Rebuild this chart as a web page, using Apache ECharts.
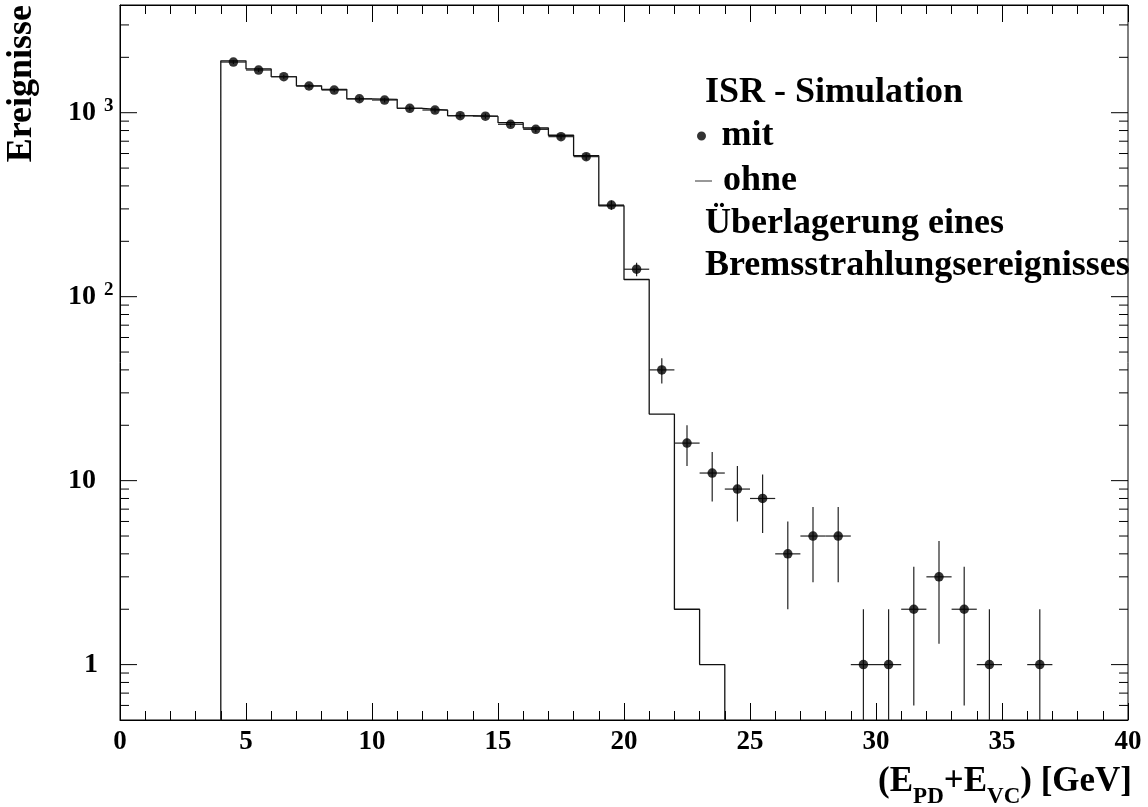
<!DOCTYPE html>
<html>
<head>
<meta charset="utf-8">
<script src="https://cdn.jsdelivr.net/npm/echarts@6/dist/echarts.min.js"></script>
<style>
html, body { margin: 0; padding: 0; background: #fff; }
#main { width: 1148px; height: 807px; }
</style>
</head>
<body>
<div id="main"></div>
<script>
// "mit" (with ISR): bin centres, contents, error bars
var mitX = [4.5, 5.5, 6.5, 7.5, 8.5, 9.5, 10.5, 11.5, 12.5, 13.5, 14.5, 15.5, 16.5, 17.5, 18.5, 19.5,
            20.5, 21.5, 22.5, 23.5, 24.5, 25.5, 26.5, 27.5, 28.5, 29.5, 30.5, 31.5, 32.5, 33.5, 34.5, 36.5];
var mitY = [1885, 1706, 1570, 1397, 1328, 1191, 1172, 1057, 1034, 963, 958, 865, 812, 741, 577, 315,
            141, 40, 16, 11, 9, 8, 4, 5, 5, 1, 1, 2, 3, 2, 1, 1];
var mitErr = [43, 41, 40, 37, 36, 35, 34, 33, 32, 31, 31, 29, 28, 27, 24, 18,
              12, 6.3, 4, 3.3, 3, 2.8, 2, 2.2, 2.2, 1, 1, 1.4, 1.7, 1.4, 1, 1];

// "ohne" (without ISR): histogram bin edges and contents
var ohneEdges = [4, 5, 6, 7, 8, 9, 10, 11, 12, 13, 14, 15, 16, 17, 18, 19, 20, 21, 22, 23, 24];
var ohneY = [1915, 1730, 1570, 1400, 1340, 1190, 1182, 1057, 1034, 963, 955, 883, 826, 754, 584, 312,
             124, 23, 2, 1];

// y axis ticks (log)
var yMajor = [1, 10, 100, 1000];
var yMinor = [0.6, 0.7, 0.8, 0.9, 2, 3, 4, 5, 6, 7, 8, 9, 20, 30, 40, 50, 60, 70, 80, 90,
              200, 300, 400, 500, 600, 700, 800, 900, 2000, 3000];

var infoLines = ['ISR - Simulation', 'Überlagerung eines', 'Bremsstrahlungsereignisses'];

var yMin = 0.5, yMax = 3850, xMin = 0, xMax = 40;
var emptyBin = 0.1;
var FONT = '"Liberation Serif", "Times New Roman", serif';

var chart = echarts.init(document.getElementById('main'));

// histogram outline for step line
var ohneData = [[ohneEdges[0], emptyBin]];
for (var i = 0; i < ohneY.length; i++) {
	ohneData.push([ohneEdges[i], ohneY[i]]);
}
ohneData.push([ohneEdges[ohneEdges.length - 1], ohneY[ohneY.length - 1]]);
ohneData.push([ohneEdges[ohneEdges.length - 1], emptyBin]);

var mitData = [], mitErrData = [];
for (var i = 0; i < mitX.length; i++) {
	mitData.push([mitX[i], mitY[i]]);
	mitErrData.push([mitX[i], mitY[i], mitErr[i]]);
}

var tickData = [];
yMajor.forEach(function (v) { tickData.push([xMin, v, 1]); });
yMinor.forEach(function (v) { tickData.push([xMin, v, 0]); });

function xAxisCfg(pos) {
	return {
		type: 'value',
		position: pos,
		min: xMin,
		max: xMax,
		interval: 5,
		axisLine: { show: true, lineStyle: { color: '#000', width: 1 } },
		axisTick: { show: true, inside: true, length: 17, lineStyle: { color: '#000', width: 1 } },
		minorTick: { show: true, splitNumber: 5, length: 9, lineStyle: { color: '#000', width: 1 } },
		splitLine: { show: false },
		axisLabel: {
			show: pos === 'bottom',
			margin: 9,
			color: '#000',
			fontFamily: FONT,
			fontWeight: 'bold',
			fontSize: 27
		}
	};
}

var bottomX = xAxisCfg('bottom');
bottomX.name = '(E{s|PD}+E{s|VC}) [GeV]';
bottomX.nameLocation = 'end';
bottomX.nameGap = 4;
bottomX.nameTextStyle = {
	align: 'right',
	verticalAlign: 'top',
	padding: [34, 0, 0, 0],
	color: '#000',
	fontFamily: FONT,
	fontWeight: 'bold',
	fontSize: 35,
	rich: {
		s: { fontFamily: FONT, fontWeight: 'bold', fontSize: 23, color: '#000', padding: [32, 0, 0, 0] }
	}
};

var legendText = { color: '#000', fontFamily: FONT, fontWeight: 'bold', fontSize: 36 };

option = {
	animation: false,
	backgroundColor: '#fff',
	grid: {
		left: 120, right: 20, top: 5, bottom: 87,
		outerBoundsMode: 'none',
		show: true, borderColor: '#000', borderWidth: 1, backgroundColor: 'transparent'
	},
	legend: [{
		data: [{ name: 'mit', icon: 'path://M0,4.5A4.5,4.5,0,1,0,9,4.5A4.5,4.5,0,1,0,0,4.5Z M19.5,4.5H19.51V4.51H19.5Z', itemStyle: { color: '#000' } }],
		left: 697, top: 118,
		padding: 0,
		itemWidth: 19.5, itemHeight: 9,
		selectedMode: false,
		textStyle: legendText
	}, {
		data: [{ name: 'ohne', icon: 'path://M0,0H17V1H0Z M23,0H23.01V1H23Z', itemStyle: { color: '#333' } }],
		left: 695, top: 163,
		padding: 0,
		itemWidth: 23, itemHeight: 1.3,
		selectedMode: false,
		textStyle: legendText
	}],
	graphic: [
		{ type: 'text', left: 705, top: 75, style: { text: infoLines[0], font: 'bold 36px ' + FONT, fill: '#000' } },
		{ type: 'text', left: 705, top: 206, style: { text: infoLines[1], font: 'bold 36px ' + FONT, fill: '#000' } },
		{ type: 'text', left: 705, top: 248, style: { text: infoLines[2], font: 'bold 36px ' + FONT, fill: '#000' } }
	],
	xAxis: [bottomX, xAxisCfg('top')],
	yAxis: {
		type: 'log',
		logBase: 10,
		min: yMin,
		max: yMax,
		name: 'Ereignisse',
		nameLocation: 'end',
		nameRotate: 90,
		nameGap: 0,
		nameTextStyle: {
			align: 'right',
			verticalAlign: 'bottom',
			padding: [0, 0, 80, 0],
			color: '#000',
			fontFamily: FONT,
			fontWeight: 'bold',
			fontSize: 36
		},
		axisLine: { show: true, lineStyle: { color: '#000', width: 1 } },
		axisTick: { show: false },
		minorTick: { show: false },
		splitLine: { show: false },
		axisLabel: {
			align: 'left',
			margin: 52,
			color: '#000',
			fontFamily: FONT,
			fontWeight: 'bold',
			fontSize: 28,
			formatter: function (v) {
				var p = Math.round(Math.log(v) / Math.LN10);
				if (Math.abs(Math.pow(10, p) - v) > 1e-6 * v) return '';
				if (p === 0) return '{one|1}';
				if (p === 1) return '10';
				return '10{sup|' + p + '}';
			},
			rich: {
				one: { fontFamily: FONT, fontWeight: 'bold', fontSize: 28, color: '#000', padding: [0, 0, 0, 16] },
				sup: { fontFamily: FONT, fontWeight: 'bold', fontSize: 19, color: '#000', padding: [0, 0, 13, 8] }
			}
		}
	},
	series: [{
		name: 'ohne',
		type: 'line',
		step: 'end',
		symbol: 'none',
		lineStyle: { color: '#111', width: 1.3 },
		itemStyle: { color: '#111' },
		data: ohneData,
		z: 2
	}, {
		name: 'mit-err',
		type: 'custom',
		renderItem: function (params, api) {
			var x = api.value(0), y = api.value(1), e = api.value(2);
			var lo = Math.max(y - e, yMin);
			var h1 = api.coord([x - 0.5, y]), h2 = api.coord([x + 0.5, y]);
			var v1 = api.coord([x, y + e]), v2 = api.coord([x, lo]);
			var st = { stroke: '#222', lineWidth: 1.2 };
			return {
				type: 'group',
				children: [
					{ type: 'line', shape: { x1: h1[0], y1: h1[1], x2: h2[0], y2: h2[1] }, style: st },
					{ type: 'line', shape: { x1: v1[0], y1: v1[1], x2: v2[0], y2: v2[1] }, style: st }
				]
			};
		},
		encode: { x: 0, y: 1 },
		data: mitErrData,
		silent: true,
		z: 3
	}, {
		name: 'mit',
		type: 'scatter',
		symbol: 'circle',
		symbolSize: 9.5,
		itemStyle: { color: '#000' },
		data: mitData,
		z: 4
	}, {
		name: 'yticks',
		type: 'custom',
		renderItem: function (params, api) {
			var v = api.value(1), len = api.value(2) ? 17 : 9;
			var l = api.coord([xMin, v]), r = api.coord([xMax, v]);
			var st = { stroke: '#000', lineWidth: 1 };
			return {
				type: 'group',
				children: [
					{ type: 'line', shape: { x1: l[0], y1: l[1], x2: l[0] + len, y2: l[1] }, style: st },
					{ type: 'line', shape: { x1: r[0] - len, y1: r[1], x2: r[0], y2: r[1] }, style: st }
				]
			};
		},
		encode: { x: 0, y: 1 },
		data: tickData,
		silent: true,
		z: 5
	}]
};

chart.setOption(option);
</script>
</body>
</html>
